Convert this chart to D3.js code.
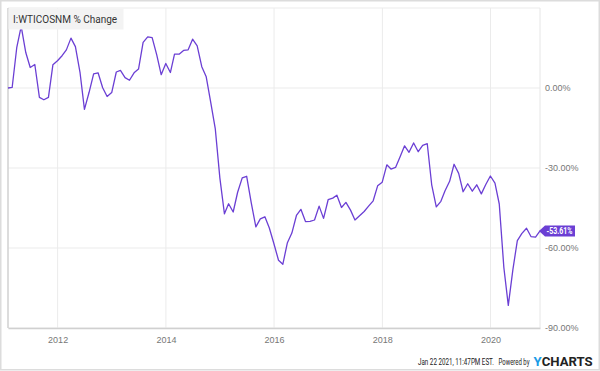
<!DOCTYPE html>
<html>
<head>
<meta charset="utf-8">
<script src="https://cdn.jsdelivr.net/npm/d3@7"></script>
<style>
  body { margin: 0; background: #fff; }
  svg { display: block; font-family: Roboto, sans-serif; }
</style>
</head>
<body>
<div id="chart"></div>
<script>
// monthly % change since Jan 2011, one array per year (Jan..Dec)
const startYear = 2011;
const y2011 = [0, 0.2, 15.1, 23.1, 13.3, 7.7, 8.8, -3.5, -4.4, -3.5, 8.7, 10.2];
const y2012 = [12.1, 14.3, 18.7, 15.5, 5.9, -8.0, -1.7, 5.3, 5.7, 0.1, -3.2, -1.7];
const y2013 = [6.0, 6.6, 3.9, 2.9, 5.7, 7.1, 17.1, 19.2, 18.9, 12.4, 5.0, 9.2];
const y2014 = [5.8, 12.7, 12.7, 14.1, 14.3, 18.3, 15.8, 8.0, 4.2, -5.6, -15.2, -33.7];
const y2015 = [-47.2, -43.4, -46.5, -39.1, -33.7, -33.1, -43.1, -52.1, -49.1, -48.3, -52.5, -58.4];
const y2016 = [-64.6, -66.1, -58.0, -54.4, -47.8, -45.5, -50.1, -50.0, -49.5, -44.3, -48.9, -41.9];
const y2017 = [-41.3, -40.2, -44.8, -42.9, -45.8, -49.5, -47.9, -46.3, -44.3, -42.3, -36.7, -35.3];
const y2018 = [-28.8, -30.4, -29.8, -25.9, -21.7, -24.1, -20.6, -23.9, -21.5, -20.9, -36.3, -44.6];
const y2019 = [-42.5, -38.5, -35.0, -28.6, -32.0, -38.9, -35.9, -38.7, -36.3, -39.7, -36.2, -33.0];
const y2020 = [-35.7, -43.5, -67.3, -81.5, -68.1, -57.2, -54.5, -52.6, -55.7, -55.9, -53.61];

const yTicks = [0, -30, -60, -90];
const xTickYears = [2012, 2014, 2016, 2018, 2020];
const seriesName = "I:WTICOSNM % Change";
const stamp = "Jan 22 2021, 11:47PM EST.";

const years = [y2011, y2012, y2013, y2014, y2015, y2016, y2017, y2018, y2019, y2020];
// month-end dates
const data = [];
years.forEach((arr, yi) => {
  arr.forEach((v, m) => {
    data.push({ date: new Date(startYear + yi, m + 1, 0), value: v });
  });
});

const width = 600, height = 371;
const plot = { left: 8, right: 540, top: 8, bottom: 328 };
const lineColor = "#6b3fd4";
const pct = d => d3.format(".2f")(d).replace("\u2212", "-") + "%";

const svg = d3.select("#chart").append("svg")
  .attr("width", width).attr("height", height);

// outer frame
svg.append("rect")
  .attr("x", 0.75).attr("y", 0.75)
  .attr("width", width - 1.5).attr("height", height - 2)
  .attr("fill", "none").attr("stroke", "#dcdcdc").attr("stroke-width", 1.5);

const x = d3.scaleTime()
  .domain(d3.extent(data, d => d.date))
  .range([plot.left, plot.right]);
const y = d3.scaleLinear()
  .domain([-90, 30])
  .range([plot.bottom, plot.top]);

// grid
const g = svg.append("g");
g.selectAll(".vgrid").data(xTickYears).enter().append("line")
  .attr("x1", d => x(new Date(d, 0, 1))).attr("x2", d => x(new Date(d, 0, 1)))
  .attr("y1", plot.top).attr("y2", plot.bottom)
  .attr("stroke", "#ebebeb").attr("stroke-width", 1);
g.selectAll(".hgrid").data(yTicks.concat([30])).enter().append("line")
  .attr("x1", plot.left).attr("x2", plot.right)
  .attr("y1", d => y(d)).attr("y2", d => y(d))
  .attr("stroke", "#ebebeb").attr("stroke-width", 1);
g.append("line")
  .attr("x1", plot.right).attr("x2", plot.right)
  .attr("y1", plot.top).attr("y2", plot.bottom)
  .attr("stroke", "#e6e6e6");

// axes (left and bottom)
const xAxis = d3.axisBottom(x)
  .tickValues(xTickYears.map(d => new Date(d, 0, 1)))
  .tickFormat(d3.timeFormat("%Y"))
  .tickSize(0).tickPadding(9);
const xg = svg.append("g")
  .attr("transform", `translate(0,${plot.bottom})`)
  .call(xAxis);
xg.select(".domain").attr("stroke", "#d0d0d0").attr("stroke-width", 1.5);
xg.selectAll("text").attr("fill", "#777").style("font-size", "9px");

svg.append("line")
  .attr("x1", plot.left).attr("x2", plot.left)
  .attr("y1", plot.top).attr("y2", plot.bottom)
  .attr("stroke", "#d0d0d0").attr("stroke-width", 1.5);

const yAxis = d3.axisRight(y)
  .tickValues(yTicks)
  .tickFormat(pct)
  .tickSize(0).tickPadding(5);
const yg = svg.append("g")
  .attr("transform", `translate(${plot.right},0)`)
  .call(yAxis);
yg.select(".domain").remove();
yg.selectAll("text").attr("fill", "#777").style("font-size", "9px");

// line
const line = d3.line().x(d => x(d.date)).y(d => y(d.value));
svg.append("path")
  .datum(data)
  .attr("d", line)
  .attr("fill", "none")
  .attr("stroke", lineColor)
  .attr("stroke-width", 1.3)
  .attr("stroke-linejoin", "round");

// last value flag
const last = data[data.length - 1];
const ly = y(last.value);
const fx = x(last.date) - 1;
svg.append("path")
  .attr("d", `M${fx},${ly} L${fx + 6},${ly - 5.5} L${fx + 36},${ly - 5.5} L${fx + 36},${ly + 5.5} L${fx + 6},${ly + 5.5} Z`)
  .attr("fill", lineColor);
svg.append("text")
  .attr("x", fx + 7.5).attr("y", ly + 3.3)
  .attr("fill", "#fff")
  .attr("textLength", 26).attr("lengthAdjust", "spacingAndGlyphs")
  .style("font-size", "9px").style("font-weight", "bold")
  .text(pct(last.value));

// title box
svg.append("rect")
  .attr("x", plot.left + 0.5).attr("y", plot.top + 0.5)
  .attr("width", 115).attr("height", 21)
  .attr("fill", "#f3f3f3");
svg.append("text")
  .attr("x", 13).attr("y", 23)
  .attr("fill", "#333")
  .style("font-size", "10px")
  .text(seriesName);

// footer pieces, squeezed horizontally to fit like the condensed original
function squeezed(tx, ty, target, size, weight, parts) {
  const grp = svg.append("g");
  const t = grp.append("text")
    .style("font-size", size + "px").style("font-weight", weight);
  parts.forEach(p => t.append("tspan").attr("fill", p[1]).text(p[0]));
  const natural = t.node().getComputedTextLength();
  grp.attr("transform", `translate(${tx},${ty}) scale(${target / natural},1)`);
}
squeezed(418, 365, 76, 8.5, "normal", [[stamp, "#222"]]);
squeezed(498.5, 365, 31, 8.5, "normal", [["Powered by", "#222"]]);
squeezed(533.5, 366, 59, 13, "bold", [["Y", "#1a9be6"], ["CHARTS", "#222"]]);
</script>
</body>
</html>
